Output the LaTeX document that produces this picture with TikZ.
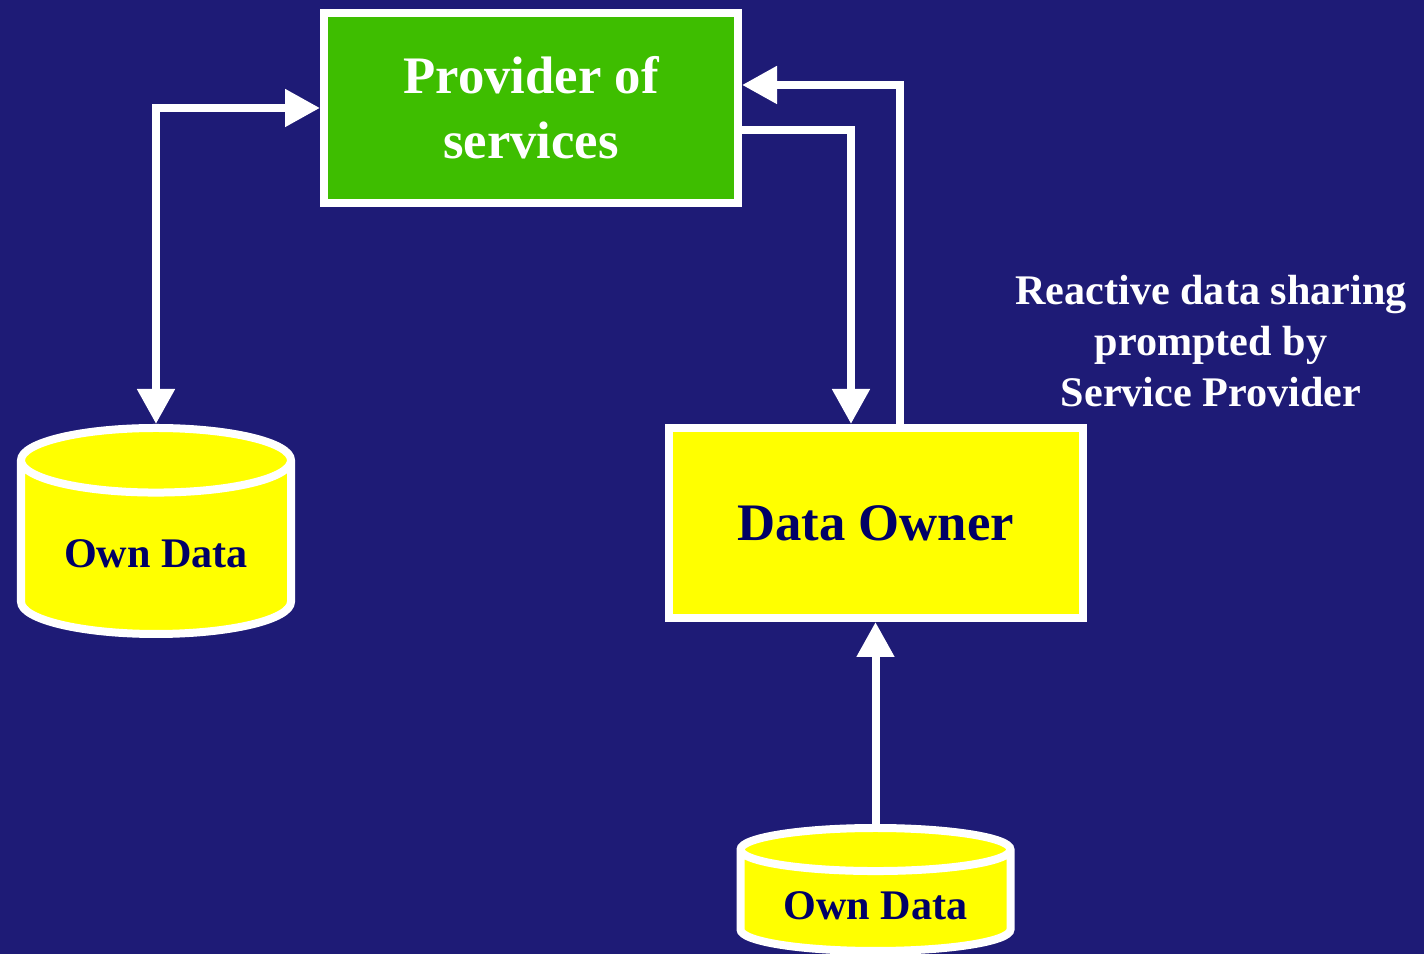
\documentclass[tikz,border=0pt]{standalone}
\usepackage{fontspec}
\setmainfont{Liberation Serif}
\usepackage{tikz}
\usetikzlibrary{shapes.geometric,arrows.meta}
\definecolor{slideBlue}{RGB}{30,27,118}
\definecolor{boxGreen}{RGB}{62,190,0}
\definecolor{boxYellow}{RGB}{255,255,0}
\definecolor{textNavy}{RGB}{0,0,102}
\def\myGrid{0.02}

\begin{document}
\begin{tikzpicture}
      \tikzstyle{every node} = [font=\bfseries]
      \tikzstyle{block} = [draw=white, line width=0.16cm, rectangle, minimum height=3.8 cm, minimum width=8.28 cm, align=center]
      \tikzstyle{store} = [draw=white, line width=0.16cm, cylinder, shape border rotate=90, anchor=shape center, fill=boxYellow, text=textNavy, minimum width=5.4 cm, font=\fontsize{24}{29}\selectfont\bfseries]
      \tikzstyle{link} = [draw=white, line width=0.16cm, -{Triangle[length=0.7cm,width=0.72cm]}]
      % Background
      \fill[slideBlue] (0,0) rectangle (28.48,19.08);
      \useasboundingbox (0,0) rectangle (28.48,19.08);
      \node[block, fill=boxGreen, text=white, font=\fontsize{30}{37}\selectfont\bfseries](provider) at (10.62,16.92){Provider of\\services};
      \node[block, fill=boxYellow, text=textNavy, font=\fontsize{30}{37}\selectfont\bfseries](dataOwner) at (17.51,8.62){Data Owner};
      \node[store, minimum height=4.12 cm, aspect=0.33](ownDataLeft) at (3.12,8.46){Own Data};
      \node[store, minimum height=2.46 cm, aspect=0.22](ownDataBottom) at (17.51,1.29){Own Data};
      \node[text=white, align=center, font=\fontsize{24}{29}\selectfont\bfseries](sharingNote) at (24.22,12.26){Reactive data sharing\\prompted by\\Service Provider};
      % Connections
      \draw[link, {Triangle[length=0.7cm,width=0.72cm]}-{Triangle[length=0.7cm,width=0.72cm]}]
      (ownDataLeft.north) |- (provider.west);
      \draw[link]
      ([yshift=-22*\myGrid cm]provider.east) -| ([xshift=-24.5*\myGrid cm]dataOwner.north);
      \draw[link]
      ([xshift=24.5*\myGrid cm]dataOwner.north) |- ([yshift=23*\myGrid cm]provider.east);
      \draw[link]
      (ownDataBottom.north) -- (dataOwner.south);
\end{tikzpicture}
\end{document}
